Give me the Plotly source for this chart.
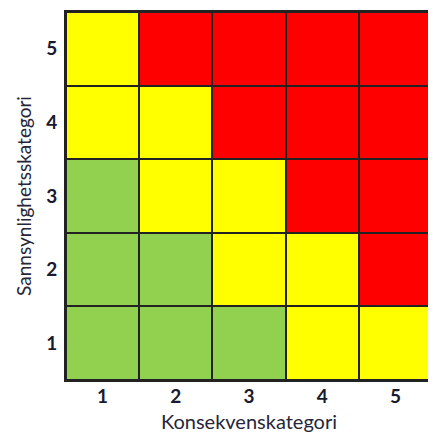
import plotly.graph_objects as go

konsekvens = [1, 2, 3, 4, 5]
sannsynlighet = [1, 2, 3, 4, 5]
# risk level: 0 = green, 1 = yellow, 2 = red; rows = sannsynlighet 1..5
risk = [
    [0, 0, 0, 1, 1],
    [0, 0, 1, 1, 2],
    [0, 1, 1, 2, 2],
    [1, 1, 2, 2, 2],
    [1, 2, 2, 2, 2],
]
colors = ["#92D050", "#FFFF00", "#FF0000"]

colorscale = [
    [0.0, colors[0]], [0.3333, colors[0]],
    [0.3333, colors[1]], [0.6667, colors[1]],
    [0.6667, colors[2]], [1.0, colors[2]],
]

fig = go.Figure(go.Heatmap(
    x=konsekvens, y=sannsynlighet, z=risk,
    zmin=0, zmax=2, colorscale=colorscale, showscale=False,
    xgap=2, ygap=2, hoverinfo="skip",
))

tick_font = dict(size=19, family="Lato", color="#1a1a2e", weight="bold")

fig.update_layout(
    width=428, height=426,
    margin=dict(l=58, r=4, t=2, b=54),
    paper_bgcolor="white", plot_bgcolor="#222222",
    font=dict(family="Lato, sans-serif", color="#222"),
)
fig.update_xaxes(
    range=[0.5, 5.5], tickvals=konsekvens, showgrid=False, zeroline=False,
    showline=True, linecolor="#222", linewidth=2, mirror=True,
    tickfont=tick_font, ticks="", ticklabelstandoff=-2,
    title=dict(text="Konsekvenskategori",
               font=dict(size=20, family="Lato", color="#262638"), standoff=9),
)
fig.update_yaxes(
    range=[0.5, 5.5], tickvals=sannsynlighet, showgrid=False, zeroline=False,
    showline=True, linecolor="#222", linewidth=2, mirror=True,
    tickfont=tick_font, ticks="", ticklabelstandoff=3,
    title=dict(text="Sannsynlighetsskategori",
               font=dict(size=19, family="Lato", color="#262638"), standoff=10),
)

fig.write_html("out.html")
